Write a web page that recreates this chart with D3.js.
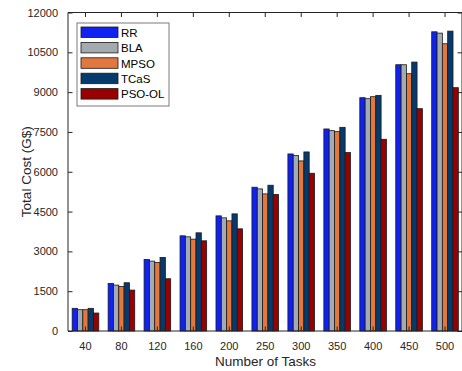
<!DOCTYPE html>
<html>
<head>
<meta charset="utf-8">
<script src="https://cdn.jsdelivr.net/npm/d3@7"></script>
<style>
  body { margin: 0; background: #fff; }
  text { font-family: "Liberation Sans", Arial, sans-serif; fill: #262626; }
</style>
</head>
<body>
<div id="chart"></div>
<script>
const width = 462;
const height = 371;

// tasks on the x axis
const tasks = ["40", "80", "120", "160", "200", "250", "300", "350", "400", "450", "500"];
const methods = ["RR", "BLA", "MPSO", "TCaS", "PSO-OL"];
const colors = ["#0f22f2", "#a3abb1", "#e3783f", "#073a6c", "#990000"];

// total cost per method
const rr    = [854, 1794, 2697, 3586, 4338, 5417, 6671, 7612, 8790, 10032, 11273];
const bla   = [802, 1730, 2633, 3548, 4263, 5354, 6609, 7549, 8753, 10032, 11223];
const mpso  = [802, 1680, 2584, 3461, 4150, 5166, 6408, 7512, 8828, 9694, 10822];
const tcas  = [854, 1818, 2772, 3699, 4413, 5492, 6746, 7674, 8878, 10132, 11298];
const psool = [677, 1542, 1968, 3398, 3849, 5142, 5944, 6722, 7223, 8377, 9168];

const yTicks = [0, 1500, 3000, 4500, 6000, 7500, 9000, 10500, 12000];

const series = [rr, bla, mpso, tcas, psool];

const plotL = 68, plotR = 463, plotT = 12.5, plotB = 331;

const svg = d3.select("#chart").append("svg")
    .attr("width", width)
    .attr("height", height);

const x = d3.scaleBand()
    .domain(tasks)
    .range([67.5, plotR])
    .padding(0);

const groupW = x.bandwidth() * 0.74;
const xInner = d3.scaleBand()
    .domain(methods)
    .range([0, groupW]);

const y = d3.scaleLinear()
    .domain([0, 12000])
    .range([plotB, plotT]);

// bars
const rows = [];
tasks.forEach((t, i) => {
    methods.forEach((m, j) => {
        rows.push({task: t, method: m, value: series[j][i], color: colors[j]});
    });
});

svg.append("g").selectAll("rect")
    .data(rows)
    .join("rect")
    .attr("x", d => x(d.task) + (x.bandwidth() - groupW) / 2 + xInner(d.method))
    .attr("y", d => y(d.value))
    .attr("width", xInner.bandwidth())
    .attr("height", d => plotB - y(d.value))
    .attr("fill", d => d.color)
    .attr("stroke", "#1a1a1a")
    .attr("stroke-width", 0.8);

// axes (box on, ticks pointing in)
const axisColor = "#262626";

const yAxis = svg.append("g")
    .attr("transform", `translate(${plotL},0)`)
    .call(d3.axisLeft(y).tickValues(yTicks).tickSize(-4.5).tickPadding(10).tickFormat(d3.format("d")));
yAxis.selectAll("text").attr("font-size", 11).style("fill", axisColor);

const yAxisR = svg.append("g")
    .attr("transform", `translate(${plotR - 1},0)`)
    .call(d3.axisRight(y).tickValues(yTicks).tickSize(-4.5).tickFormat(""));

const xAxis = svg.append("g")
    .attr("transform", `translate(0,${plotB})`)
    .call(d3.axisBottom(x).tickSize(-4.5).tickPadding(11));
xAxis.selectAll("text").attr("font-size", 11).style("fill", axisColor);

const xAxisTop = svg.append("g")
    .attr("transform", `translate(0,${plotT})`)
    .call(d3.axisTop(x).tickSize(-4.5).tickFormat(""));

[yAxis, yAxisR, xAxis, xAxisTop].forEach(g => {
    g.select(".domain").attr("stroke", axisColor).attr("stroke-width", 1);
    g.selectAll(".tick line").attr("stroke", axisColor);
});
xAxis.select(".domain").attr("d", `M${plotL},0H${plotR}`);
xAxisTop.select(".domain").attr("d", `M${plotL},0H${plotR}`);
yAxis.select(".domain").attr("d", `M0,${plotB}V${plotT}`);
yAxisR.select(".domain").attr("d", `M0,${plotB}V${plotT}`);

// axis titles
svg.append("text")
    .attr("x", (plotL + plotR) / 2)
    .attr("y", 366)
    .attr("text-anchor", "middle")
    .attr("font-size", 13.5)
    .text("Number of Tasks");

svg.append("text")
    .attr("transform", `translate(31,${(plotT + plotB) / 2}) rotate(-90)`)
    .attr("text-anchor", "middle")
    .attr("font-size", 13.5)
    .text("Total Cost (G$)");

// legend
const legend = svg.append("g").attr("transform", "translate(77,23)");
legend.append("rect")
    .attr("width", 92)
    .attr("height", 83)
    .attr("fill", "#fff")
    .attr("stroke", "#7a7a7a")
    .attr("stroke-width", 1);

const items = legend.selectAll("g.item")
    .data(methods)
    .join("g")
    .attr("class", "item")
    .attr("transform", (d, i) => `translate(4,${4 + i * 15.4})`);

items.append("rect")
    .attr("width", 37)
    .attr("height", 10.5)
    .attr("fill", (d, i) => colors[i])
    .attr("stroke", "#1a1a1a")
    .attr("stroke-width", 0.8);

items.append("text")
    .attr("x", 40)
    .attr("y", 9.8)
    .attr("font-size", 11.5)
    .style("fill", "#000")
    .text(d => d);
</script>
</body>
</html>
